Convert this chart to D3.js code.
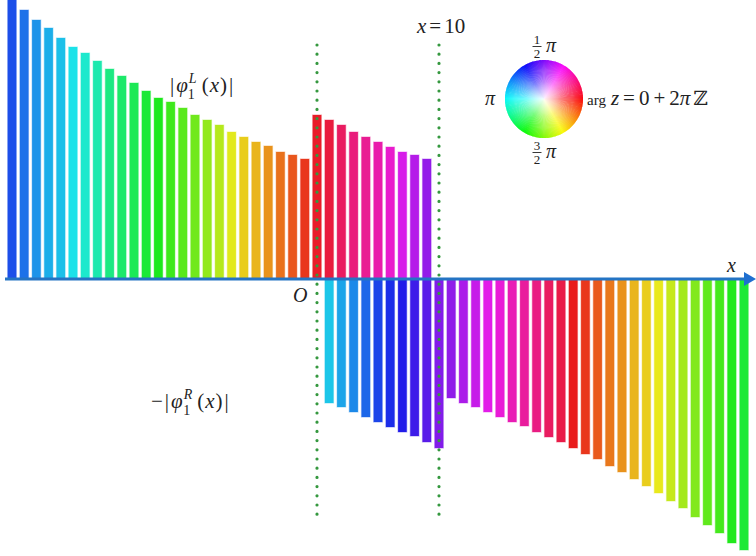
<!DOCTYPE html>
<html>
<head>
<meta charset="utf-8">
<script src="https://cdn.jsdelivr.net/npm/d3@7"></script>
<style>
  body { margin: 0; background: #fff; }
  svg text { font-family: "Liberation Serif", "DejaVu Serif", serif; fill: #222; }
</style>
</head>
<body>
<svg id="chart" width="756" height="556"></svg>
<script>
// upper bars: |phi_1^L(x)| for x = -25..9
var upperX = [-25,-24,-23,-22,-21,-20,-19,-18,-17,-16,-15,-14,-13,-12,-11,-10,-9,-8,-7,-6,-5,-4,-3,-2,-1,
              0,1,2,3,4,5,6,7,8,9];
var upperAbs = [2.79,2.69,2.59,2.51,2.41,2.32,2.26,2.18,2.10,2.03,1.96,1.88,1.81,1.77,1.71,1.64,1.59,1.54,1.47,1.42,1.37,1.33,1.27,1.24,1.20,
                1.64,1.59,1.54,1.47,1.42,1.37,1.32,1.27,1.24,1.20];
var upperHue = [225,215,205,197,192,182,172,163,150,143,137,128,120,110,102,95,85,75,62,52,45,35,25,17,8,
                356,350,340,332,325,318,308,295,285,275];

// lower bars: -|phi_1^R(x)| for x = 1..35
var lowerX = [1,2,3,4,5,6,7,8,9,10,
              11,12,13,14,15,16,17,18,19,20,21,22,23,24,25,26,27,28,29,30,31,32,33,34,35];
var lowerAbs = [1.24,1.28,1.33,1.38,1.43,1.48,1.53,1.57,1.63,1.69,
                1.19,1.24,1.28,1.33,1.38,1.43,1.47,1.53,1.58,1.63,1.69,1.75,1.80,1.87,1.93,2.00,2.07,2.14,2.22,2.29,2.38,2.46,2.54,2.64,2.71];
var lowerHue = [190,200,208,218,228,235,242,250,258,270,
                274,282,290,298,305,315,322,330,340,347,0,8,18,27,35,45,52,60,70,80,90,100,108,118,128];

var markX = [0, 10];

var svg = d3.select("#chart");
var x = d3.scaleLinear().domain([-25, 35]).range([12, 744]);
var y = d3.scaleLinear().domain([-2.79, 2.79]).range([558, 0]);
var bw = 8.6;

function col(h) { return d3.hsl(h, 0.82, 0.51).formatHex(); }

var upper = upperX.map(function(d, i) { return {x: d, v: upperAbs[i], h: upperHue[i]}; });
var lower = lowerX.map(function(d, i) { return {x: d, v: lowerAbs[i], h: lowerHue[i]}; });

svg.append("g").selectAll("rect").data(upper).enter().append("rect")
  .attr("x", function(d) { return x(d.x) - bw / 2; })
  .attr("y", function(d) { return y(d.v); })
  .attr("width", bw)
  .attr("height", function(d) { return y(0) - y(d.v); })
  .attr("fill", function(d) { return col(d.h); })
  .attr("stroke", function(d) { return col(d.h); })
  .attr("stroke-opacity", 0.35)
  .attr("stroke-width", 1.2);

svg.append("g").selectAll("rect").data(lower).enter().append("rect")
  .attr("x", function(d) { return x(d.x) - bw / 2; })
  .attr("y", y(0) + 1)
  .attr("width", bw)
  .attr("height", function(d) { return y(-d.v) - y(0) - 1; })
  .attr("fill", function(d) { return col(d.h); })
  .attr("stroke", function(d) { return col(d.h); })
  .attr("stroke-opacity", 0.35)
  .attr("stroke-width", 1.2);

// x axis with arrow
svg.append("line")
  .attr("x1", 5).attr("x2", 745)
  .attr("y1", y(0)).attr("y2", y(0))
  .attr("stroke", "#2474c4").attr("stroke-width", 3);
svg.append("path")
  .attr("d", "M744," + (y(0) - 7) + "L756," + y(0) + "L744," + (y(0) + 7) + "Z")
  .attr("fill", "#1f6fd0");

// dotted marker lines
svg.append("g").selectAll("line").data(markX).enter().append("line")
  .attr("x1", function(d) { return x(d); }).attr("x2", function(d) { return x(d); })
  .attr("y1", 45).attr("y2", 518)
  .attr("stroke", "#35983f")
  .attr("stroke-width", 3.2)
  .attr("stroke-linecap", "round")
  .attr("stroke-dasharray", "0 9.2");

// labels
function phiLabel(tx, ty, pre, sup) {
  var t = svg.append("text").attr("x", tx).attr("y", ty).attr("font-size", 21);
  if (pre) t.append("tspan").text(pre);
  t.append("tspan").attr("dx", pre ? 2 : 0).text("|");
  t.append("tspan").attr("dx", 2).attr("font-style", "italic").text("φ");
  t.append("tspan").attr("font-size", 14).attr("dx", 1).attr("dy", -9).attr("font-style", "italic").text(sup);
  t.append("tspan").attr("font-size", 14).attr("dx", -9).attr("dy", 16).text("1");
  t.append("tspan").attr("dy", -7).attr("dx", 7).text("(");
  t.append("tspan").attr("dx", 1).attr("font-style", "italic").text("x");
  t.append("tspan").attr("dx", 1).text(")");
  t.append("tspan").attr("dx", 2).text("|");
}
phiLabel(170, 92, "", "L");
phiLabel(151, 408, "−", "R");

var t3 = svg.append("text").attr("x", 417).attr("y", 33).attr("font-size", 21);
t3.append("tspan").attr("font-style", "italic").text("x");
t3.append("tspan").attr("dx", 3).text("=");
t3.append("tspan").attr("dx", 3).text("10");

svg.append("text").attr("x", 293).attr("y", 302).attr("font-size", 20)
  .attr("font-style", "italic").text("O");
svg.append("text").attr("x", 727).attr("y", 272).attr("font-size", 20)
  .attr("font-style", "italic").text("x");

// colour wheel legend
var cx = 544, cy = 99, r = 39;
var wheel = svg.append("g").attr("transform", "translate(" + cx + "," + cy + ")");
var arc = d3.arc().innerRadius(0).outerRadius(r);
var wedges = d3.range(0, 360, 2);
wheel.selectAll("path").data(wedges).enter().append("path")
  .attr("d", function(a) {
    // arg measured counter-clockwise from the right
    var s = Math.PI / 2 - (a + 1.5) * Math.PI / 180;
    return arc({startAngle: s, endAngle: s + 3 * Math.PI / 180});
  })
  .attr("fill", function(a) { return d3.hsl((360 - a) % 360, 0.95, 0.5).formatHex(); });
var defs = svg.append("defs");
var rg = defs.append("radialGradient").attr("id", "fade");
rg.append("stop").attr("offset", "0%").attr("stop-color", "#fff").attr("stop-opacity", 0.95);
rg.append("stop").attr("offset", "45%").attr("stop-color", "#fff").attr("stop-opacity", 0.45);
rg.append("stop").attr("offset", "100%").attr("stop-color", "#fff").attr("stop-opacity", 0);
wheel.append("circle").attr("r", r + 0.5).attr("fill", "url(#fade)");

function frac(gx, gy, num, den) {
  svg.append("text").attr("x", gx).attr("y", gy - 6).attr("font-size", 13)
    .attr("text-anchor", "middle").text(num);
  svg.append("line").attr("x1", gx - 4.5).attr("x2", gx + 4.5)
    .attr("y1", gy - 3.5).attr("y2", gy - 3.5).attr("stroke", "#222").attr("stroke-width", 0.9);
  svg.append("text").attr("x", gx).attr("y", gy + 8).attr("font-size", 13)
    .attr("text-anchor", "middle").text(den);
  svg.append("text").attr("x", gx + 9).attr("y", gy + 2).attr("font-size", 20)
    .attr("font-style", "italic").text("π");
}
frac(537, 50, "1", "2");
frac(537, 156, "3", "2");
svg.append("text").attr("x", 485).attr("y", 105).attr("font-size", 20)
  .attr("font-style", "italic").text("π");

var t4 = svg.append("text").attr("x", 587).attr("y", 105).attr("font-size", 21);
t4.append("tspan").attr("font-size", 15).text("arg");
t4.append("tspan").attr("dx", 5).attr("font-style", "italic").text("z");
t4.append("tspan").attr("dx", 4).text("=");
t4.append("tspan").attr("dx", 4).text("0");
t4.append("tspan").attr("dx", 4).text("+");
t4.append("tspan").attr("dx", 4).text("2");
t4.append("tspan").attr("font-style", "italic").text("π");
t4.append("tspan").attr("dx", 3).attr("font-family", "DejaVu Serif").attr("font-size", 20).text("ℤ");
</script>
</body>
</html>
